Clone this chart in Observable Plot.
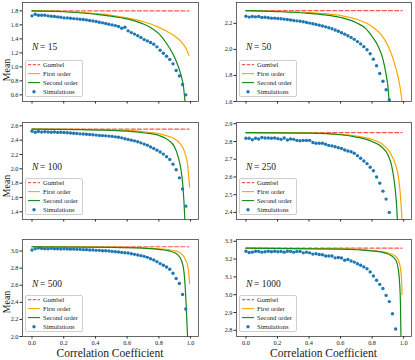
<!DOCTYPE html>
<html><head><meta charset="utf-8">
<script src="https://cdn.jsdelivr.net/npm/d3@7"></script>
<script src="https://cdn.jsdelivr.net/npm/@observablehq/plot@0.6"></script>
<style>
body{margin:0;background:#fff;}
#root{position:relative;width:415px;height:360px;overflow:hidden;font-family:"Liberation Serif","Times New Roman",serif;color:#222}
.ylab{position:absolute;font-size:9.8px;white-space:nowrap;transform:translate(-50%,-50%) rotate(-90deg)}
.xlab{position:absolute;font-size:11.5px;white-space:nowrap;transform:translate(-50%,-50%)}
.leg{position:absolute;box-sizing:border-box;border:0.7px solid #cfcfcf;border-radius:2px;background:rgba(255,255,255,0.85)}
</style></head><body><div id="root"></div>
<script>
// correlation coefficient grid of the simulations
const rho = [0,0.0202,0.0404,0.0606,0.0808,0.1010,0.1212,0.1414,0.1616,0.1818,
  0.2020,0.2222,0.2424,0.2627,0.2829,0.3031,0.3233,0.3435,0.3637,0.3839,
  0.4041,0.4243,0.4445,0.4647,0.4849,0.5051,0.5253,0.5455,0.5657,0.5859,
  0.6061,0.6263,0.6465,0.6667,0.6869,0.7071,0.7273,0.7476,0.7678,0.7880,
  0.8082,0.8284,0.8486,0.8688,0.8890,0.9092,0.9294,0.9496,0.9698,0.99];

const sizes = [15, 50, 100, 250, 500, 1000];
const gumbel = [1.80, 2.297, 2.553, 2.85, 3.05, 3.261];

const sims15 = [1.729,1.752,1.738,1.738,1.738,1.729,1.724,1.719,1.714,1.710,
  1.700,1.700,1.695,1.690,1.686,1.681,1.676,1.671,1.662,1.657,
  1.648,1.638,1.629,1.619,1.610,1.600,1.590,1.576,1.552,1.567,
  1.515,1.490,1.468,1.445,1.419,1.390,1.371,1.348,1.324,1.286,
  1.238,1.195,1.152,1.105,1.043,0.948,0.871,0.748,0.600];
const sims50 = [2.255,2.248,2.253,2.250,2.252,2.245,2.247,2.243,2.240,2.240,
  2.237,2.235,2.232,2.230,2.226,2.222,2.219,2.216,2.212,2.206,
  2.202,2.197,2.192,2.186,2.180,2.173,2.166,2.158,2.149,2.139,
  2.128,2.117,2.105,2.092,2.077,2.060,2.042,2.021,1.997,1.966,
  1.925,1.875,1.815,1.755,1.690,1.612];
const sims100 = [2.525,2.51,2.52,2.512,2.518,2.514,2.51,2.514,2.508,2.51,
  2.506,2.503,2.50,2.496,2.493,2.488,2.485,2.482,2.478,2.475,
  2.47,2.466,2.463,2.46,2.456,2.452,2.446,2.44,2.432,2.42,
  2.41,2.40,2.39,2.378,2.362,2.345,2.33,2.305,2.285,2.26,
  2.235,2.205,2.17,2.13,2.065,1.986,1.874,1.72,1.479];
const sims250 = [2.818,2.818,2.81,2.818,2.814,2.822,2.82,2.82,2.818,2.82,
  2.816,2.812,2.82,2.808,2.814,2.812,2.806,2.804,2.806,2.806,
  2.806,2.794,2.79,2.79,2.79,2.784,2.778,2.775,2.77,2.765,
  2.76,2.752,2.746,2.742,2.734,2.72,2.705,2.69,2.675,2.655,
  2.635,2.60,2.565,2.52,2.475,2.40];
const sims500 = [3.012,3.027,3.035,3.031,3.027,3.027,3.031,3.027,3.027,3.024,
  3.027,3.024,3.022,3.024,3.02,3.02,3.016,3.016,3.012,3.012,
  3.008,3.008,3.004,3.004,3.0,2.996,2.992,2.988,2.984,2.98,
  2.977,2.969,2.961,2.953,2.946,2.938,2.926,2.91,2.895,2.876,
  2.853,2.833,2.814,2.787,2.74,2.678,2.62,2.492,2.322];
const sims1000 = [3.244,3.237,3.239,3.244,3.243,3.239,3.241,3.244,3.241,3.244,
  3.241,3.243,3.239,3.244,3.243,3.239,3.243,3.243,3.235,3.239,
  3.235,3.228,3.230,3.226,3.224,3.217,3.217,3.217,3.207,3.209,
  3.206,3.193,3.198,3.189,3.183,3.174,3.165,3.156,3.146,3.128,
  3.105,3.081,3.058,3.035,2.996,2.961,2.893,2.807];

// [rho, mean] points
const first15 = [[0,1.80],[0.2,1.792],[0.4,1.762],[0.5,1.738],[0.6,1.70],[0.7,1.648],[0.8,1.565],[0.85,1.51],[0.9,1.44],[0.94,1.36],[0.97,1.27],[0.99,1.165]];
const second15 = [[0,1.80],[0.2,1.788],[0.4,1.752],[0.5,1.725],[0.6,1.685],[0.7,1.615],[0.75,1.56],[0.8,1.475],[0.85,1.33],[0.88,1.22],[0.9,1.13],[0.92,1.02],[0.94,0.88],[0.955,0.72],[0.965,0.505]];
const first50 = [[0,2.297],[0.2,2.292],[0.4,2.283],[0.5,2.274],[0.6,2.26],[0.7,2.232],[0.8,2.175],[0.86,2.11],[0.9,2.03],[0.93,1.94],[0.95,1.86],[0.97,1.76],[0.98,1.69],[0.99,1.604]];
const second50 = [[0,2.297],[0.2,2.29],[0.4,2.277],[0.5,2.265],[0.6,2.245],[0.7,2.205],[0.76,2.16],[0.8,2.10],[0.84,2.02],[0.87,1.92],[0.89,1.80],[0.9,1.72],[0.908,1.604]];
const first100 = [[0,2.553],[0.3,2.55],[0.5,2.543],[0.6,2.535],[0.7,2.518],[0.8,2.49],[0.86,2.455],[0.9,2.415],[0.93,2.36],[0.95,2.30],[0.97,2.18],[0.98,2.08],[0.99,1.85],[0.994,1.745]];
const second100 = [[0,2.553],[0.3,2.548],[0.5,2.537],[0.6,2.525],[0.7,2.503],[0.8,2.465],[0.86,2.40],[0.9,2.30],[0.92,2.18],[0.94,1.98],[0.95,1.80],[0.958,1.55],[0.964,1.293]];
const first250 = [[0,2.85],[0.4,2.848],[0.6,2.84],[0.7,2.831],[0.8,2.812],[0.86,2.788],[0.9,2.755],[0.93,2.71],[0.95,2.665],[0.965,2.61],[0.975,2.54],[0.982,2.47],[0.987,2.40],[0.99,2.36]];
const second250 = [[0,2.85],[0.4,2.847],[0.6,2.838],[0.7,2.825],[0.8,2.80],[0.86,2.77],[0.9,2.725],[0.925,2.66],[0.94,2.58],[0.95,2.50],[0.956,2.43],[0.96,2.36]];
const first500 = [[0,3.05],[0.5,3.046],[0.7,3.038],[0.8,3.027],[0.9,3.005],[0.95,2.955],[0.97,2.89],[0.98,2.84],[0.99,2.72],[0.994,2.62]];
const second500 = [[0,3.05],[0.5,3.044],[0.7,3.034],[0.8,3.02],[0.9,2.98],[0.94,2.90],[0.958,2.76],[0.968,2.52],[0.975,2.25],[0.981,2.0]];
const first1000 = [[0,3.261],[0.6,3.257],[0.8,3.248],[0.88,3.239],[0.93,3.226],[0.96,3.205],[0.975,3.17],[0.983,3.13],[0.988,3.06],[0.99,3.0]];
const second1000 = [[0,3.261],[0.6,3.256],[0.8,3.246],[0.88,3.235],[0.92,3.22],[0.95,3.195],[0.965,3.15],[0.975,3.06],[0.98,2.95],[0.983,2.77]];

const yDomains = [[0.505,1.92],[1.6,2.36],[1.293,2.646],[2.36,2.907],[2.0,3.135],[2.765,3.31]];
const yTicks = [[0.6,0.8,1.0,1.2,1.4,1.6,1.8],[1.6,1.8,2.0,2.2],[1.4,1.6,1.8,2.0,2.2,2.4,2.6],
  [2.4,2.5,2.6,2.7,2.8,2.9],[2.0,2.2,2.4,2.6,2.8,3.0],[2.8,2.9,3.0,3.1,3.2,3.3]];
const xTicks = [0,0.2,0.4,0.6,0.8,1.0];
const legendLabels = ["Gumbel","First order","Second order","Simulations"];

const simsAll = [sims15, sims50, sims100, sims250, sims500, sims1000];
const firstAll = [first15, first50, first100, first250, first500, first1000];
const secondAll = [second15, second50, second100, second250, second500, second1000];

const C = {gumbel:"#ff2a2a", first:"#ffa500", second:"#138a13", sim:"#1f77b4"};
const FONT = '"Liberation Serif","Times New Roman",serif';

// layout of plot frames (px)
const frameL = [22, 236], frameR = [198, 411];
const frameT = [2, 122, 239], frameB = [101, 219, 336];
const meanLabelY = [70, 186, 302];

const root = document.getElementById("root");

function legendBox(left, bottom){
  const w = 58, h = 37;
  const d = document.createElement("div");
  d.className = "leg";
  d.style.left = left + "px"; d.style.top = (bottom - h) + "px";
  d.style.width = w + "px"; d.style.height = h + "px";
  const ys = [4.6, 13.6, 22.6, 31.8];
  let s = `<svg width="${w}" height="${h}" style="position:absolute;left:-0.7px;top:-0.7px;overflow:visible">`;
  s += `<line x1="3" x2="15" y1="${ys[0]}" y2="${ys[0]}" stroke="${C.gumbel}" stroke-opacity="0.8" stroke-width="1.1" stroke-dasharray="3.2,1.6"/>`;
  s += `<line x1="3" x2="15" y1="${ys[1]}" y2="${ys[1]}" stroke="${C.first}" stroke-width="1.1"/>`;
  s += `<line x1="3" x2="15" y1="${ys[2]}" y2="${ys[2]}" stroke="${C.second}" stroke-width="1.1"/>`;
  s += `<circle cx="9" cy="${ys[3]}" r="1.7" fill="${C.sim}"/>`;
  legendLabels.forEach((t,k)=>{
    s += `<text x="18" y="${ys[k]}" dy="0.34em" font-size="6.6" font-family='${FONT}' fill="#222">${t}</text>`;
  });
  s += `</svg>`;
  d.innerHTML = s;
  return d;
}

sizes.forEach((N, i) => {
  const col = i % 2, row = Math.floor(i / 2);
  const ml = col ? 26 : 22, mr = 4, mt = 2, mb = 14;
  const fw = frameR[col] - frameL[col], fh = frameB[row] - frameT[row];
  const sims = simsAll[i].map((v, k) => ({x: rho[k], y: v}));
  const g = [[rho[0], gumbel[i]], [rho[rho.length - 1], gumbel[i]]];
  const svg = Plot.plot({
    width: ml + fw + mr, height: mt + fh + mb,
    marginLeft: ml, marginRight: mr, marginTop: mt, marginBottom: mb,
    style: {fontFamily: FONT, fontSize: "6.3px", background: "transparent", color: "#222", overflow: "visible"},
    x: {domain: [-0.06, 1.05], ticks: xTicks, tickSize: 2.5, tickPadding: 1.5,
        tickFormat: row === 2 ? (d => d.toFixed(1)) : (() => ""), label: null},
    y: {domain: yDomains[i], ticks: yTicks[i], tickSize: 2.5, tickPadding: 1.5,
        tickFormat: d => d.toFixed(1), label: null},
    marks: [
      Plot.line(g, {x: d => d[0], y: d => d[1], stroke: C.gumbel, strokeOpacity: 0.8, strokeWidth: 1.2, strokeDasharray: "4,2.2"}),
      Plot.line(firstAll[i], {x: d => d[0], y: d => d[1], stroke: C.first, strokeWidth: 1.2, curve: "monotone-x"}),
      Plot.line(secondAll[i], {x: d => d[0], y: d => d[1], stroke: C.second, strokeWidth: 1.2, curve: "monotone-x"}),
      Plot.dot(sims, {x: "x", y: "y", r: 1.7, fill: C.sim, stroke: null}),
      Plot.text(["N"], {frameAnchor: "top-left", dx: 9.5, dy: 40.5, fontStyle: "italic", fontSize: 9.5, textAnchor: "start", fill: "#222"}),
      Plot.text(["= " + N], {frameAnchor: "top-left", dx: 17.5, dy: 40.5, fontSize: 9.5, textAnchor: "start", fill: "#222"}),
      Plot.frame({stroke: "#444", strokeWidth: 0.8})
    ]
  });
  const wrap = document.createElement("div");
  wrap.style.position = "absolute";
  wrap.style.left = (frameL[col] - ml) + "px";
  wrap.style.top = (frameT[row] - mt) + "px";
  wrap.appendChild(svg);
  root.appendChild(wrap);
  root.appendChild(legendBox(frameL[col] + 3, frameB[row] - 4));
  if (col === 0) {
    const yl = document.createElement("div");
    yl.className = "ylab"; yl.textContent = "Mean";
    yl.style.left = "5.5px"; yl.style.top = meanLabelY[row] + "px";
    root.appendChild(yl);
  }
  if (row === 2) {
    const xl = document.createElement("div");
    xl.className = "xlab"; xl.textContent = "Correlation Coefficient";
    xl.style.left = ((frameL[col] + frameR[col]) / 2) + "px"; xl.style.top = "353px";
    root.appendChild(xl);
  }
});
</script></body></html>
